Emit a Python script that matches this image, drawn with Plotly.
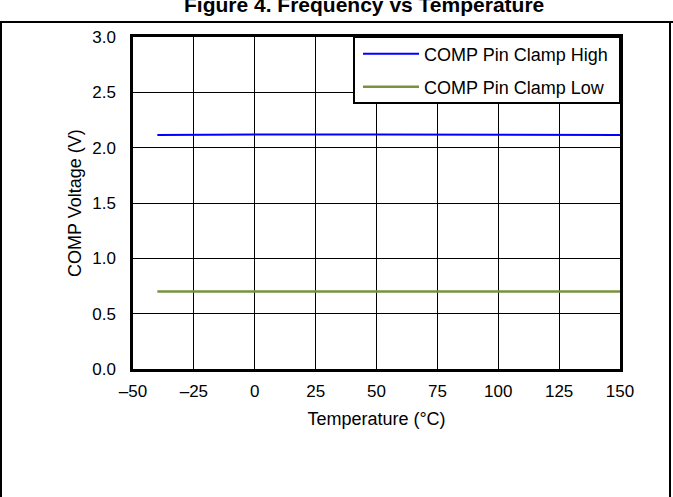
import plotly.graph_objects as go

temperature = [-40, -25, 0, 25, 50, 75, 100, 125, 150]
clamp_high = [2.115, 2.117, 2.119, 2.12, 2.12, 2.12, 2.119, 2.117, 2.115]
clamp_low = [0.70, 0.70, 0.70, 0.70, 0.70, 0.70, 0.70, 0.70, 0.70]

x_tickvals = [-50, -25, 0, 25, 50, 75, 100, 125, 150]
x_ticktext = ["–50", "–25", "0", "25", "50", "75", "100", "125", "150"]
y_tickvals = [0, 0.5, 1.0, 1.5, 2.0, 2.5, 3.0]
y_ticktext = ["0.0", "0.5", "1.0", "1.5", "2.0", "2.5", "3.0"]

FONT = "Arial, Liberation Sans, sans-serif"

fig = go.Figure()
fig.add_trace(go.Scatter(x=temperature, y=clamp_high, mode="lines",
                         name="COMP Pin Clamp High",
                         line=dict(color="#0000FF", width=2), legend="legend"))
fig.add_trace(go.Scatter(x=temperature, y=clamp_low, mode="lines",
                         name="COMP Pin Clamp Low",
                         line=dict(color="#77933C", width=2.5), legend="legend2"))

W, H = 673, 497
L, R, T, B = 133, 53, 37, 128
pw, ph = W - L - R, H - T - B

def px(x):
    return (x - L) / pw

def py(y):
    return (H - B - y) / ph

shapes = [
    # outer frame
    dict(type="line", xref="paper", yref="paper", x0=px(-5), x1=px(W + 5), y0=py(22), y1=py(22),
         line=dict(color="black", width=2)),
    dict(type="line", xref="paper", yref="paper", x0=px(1), x1=px(1), y0=py(22), y1=py(H + 5),
         line=dict(color="black", width=2)),
    dict(type="line", xref="paper", yref="paper", x0=px(670), x1=px(670), y0=py(22), y1=py(H + 5),
         line=dict(color="black", width=2)),
    # legend box
    dict(type="rect", xref="paper", yref="paper", x0=px(354), x1=1, y0=py(103), y1=1,
         fillcolor="white", line=dict(color="black", width=2), layer="above"),
]

leg_common = dict(xanchor="left", yanchor="middle", bgcolor="rgba(0,0,0,0)",
                  borderwidth=0, font=dict(family=FONT, size=18, color="black"),
                  itemwidth=56)

fig.update_layout(
    width=W, height=H,
    margin=dict(l=L, r=R, t=T, b=B, pad=0),
    paper_bgcolor="white", plot_bgcolor="white",
    font=dict(family=FONT, size=17, color="black"),
    showlegend=True,
    legend=dict(x=px(358), y=py(54), **leg_common),
    legend2=dict(x=px(358), y=py(87), **leg_common),
    shapes=shapes,
    annotations=[dict(text="<b>Figure 4. Frequency vs Temperature</b>", xref="paper", yref="paper",
                      x=px(364), y=py(4.0), xanchor="center", yanchor="middle", showarrow=False,
                      font=dict(family=FONT, size=21, color="black"))],
    xaxis=dict(range=[-50, 150], tickvals=x_tickvals, ticktext=x_ticktext,
               showgrid=True, gridcolor="black", gridwidth=1, zeroline=False,
               showline=True, linecolor="black", linewidth=2.5, mirror=True,
               ticks="", ticklabelstandoff=5, tickfont=dict(family=FONT, size=17),
               title=dict(text="Temperature (°C)", font=dict(family=FONT, size=18), standoff=13)),
    yaxis=dict(range=[0, 3], tickvals=y_tickvals, ticktext=y_ticktext,
               showgrid=True, gridcolor="black", gridwidth=1, zeroline=False,
               showline=True, linecolor="black", linewidth=2.5, mirror=True,
               ticks="", ticklabelstandoff=11, tickfont=dict(family=FONT, size=17),
               title=dict(text="COMP Voltage (V)", font=dict(family=FONT, size=18), standoff=6)),
)

fig.write_html("out.html", config={"displayModeBar": False},
               post_script="document.body.style.margin='0';")
